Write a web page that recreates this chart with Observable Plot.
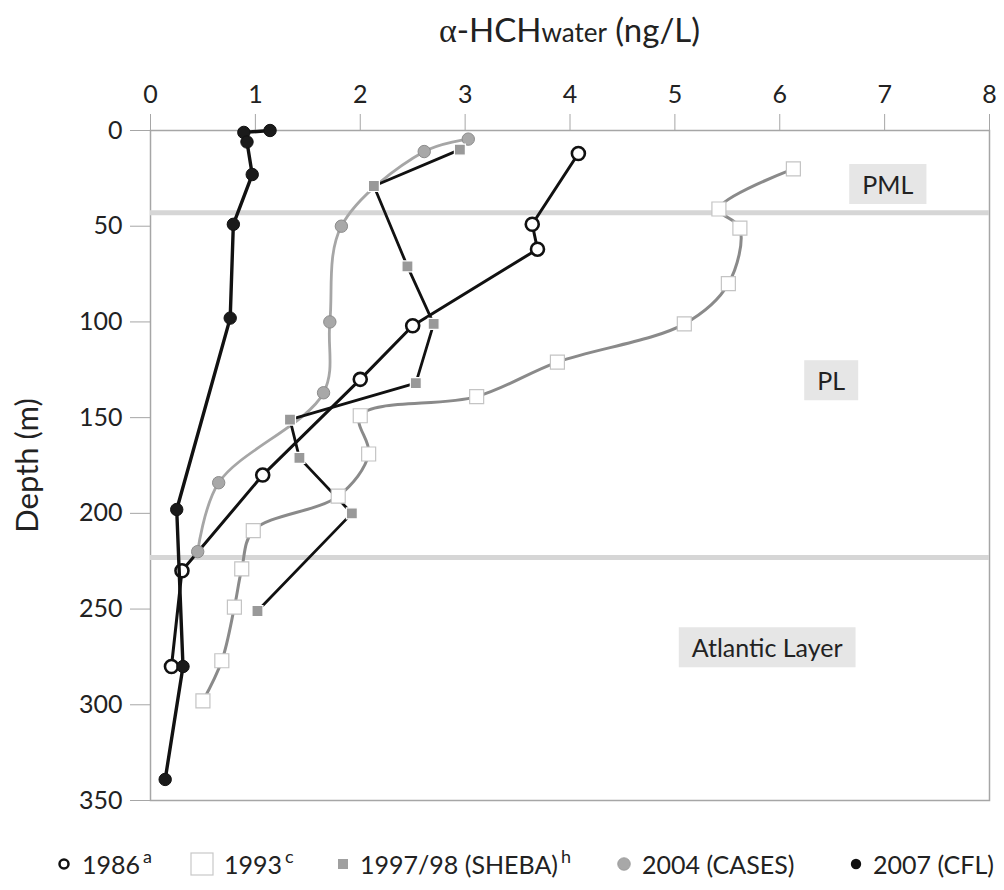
<!DOCTYPE html>
<html>
<head>
<meta charset="utf-8">
<script src="https://cdn.jsdelivr.net/npm/d3@7"></script>
<script src="https://cdn.jsdelivr.net/npm/@observablehq/plot@0.6"></script>
<style>
  body { margin: 0; background: #fff; font-family: Lato, "Open Sans", sans-serif; color: #222; }
  #wrap { position: relative; width: 1004px; height: 890px; overflow: hidden; background: #fff; }
  #title { position: absolute; left: 150px; width: 839px; top: 9px; text-align: center;
           font-size: 33px; line-height: 40px; white-space: nowrap; }
  #title .alpha { font-family: "Liberation Serif", "DejaVu Serif", serif; font-size: 34px; }
  #title .sub { font-size: 26px; }
  #chart { position: absolute; left: 0; top: 60px; }
  #legend { position: absolute; left: 0; top: 846px; width: 1004px; height: 36px; font-size: 25px; }
  #legend .item { position: absolute; top: 0; height: 36px; line-height: 36px; white-space: nowrap; display: flex; align-items: center; }
  #legend .item svg { flex: none; }
  #legend .lab { margin-left: 10px; }
  #legend sup { font-size: 18px; line-height: 1; vertical-align: 11px; margin-left: 3px; }
</style>
</head>
<body>
<div id="wrap">
  <div id="title"><span class="alpha">α</span>-HCH<span class="sub">water</span> (ng/L)</div>
  <div id="chart"></div>
  <div id="legend"></div>
</div>
<script>
// α-HCH concentration profiles (ng/L) against depth (m), Canada Basin

// 1986
const depth1986 = [12, 49, 62, 102, 130, 180, 230, 280];
const hch1986   = [4.08, 3.64, 3.69, 2.50, 2.00, 1.07, 0.30, 0.20];

// 1993
const depth1993 = [20, 41, 51, 80, 101, 121, 139, 149, 169, 191, 209, 229, 249, 277, 298];
const hch1993   = [6.13, 5.42, 5.62, 5.51, 5.09, 3.88, 3.11, 2.00, 2.08, 1.79, 0.98, 0.87, 0.80, 0.68, 0.50];

// 1997/98 (SHEBA)
const depthSheba = [10, 29, 71, 101, 132, 151, 171, 200, 251];
const hchSheba   = [2.95, 2.13, 2.45, 2.70, 2.53, 1.33, 1.42, 1.92, 1.02];

// 2004 (CASES)
const depth2004 = [4.5, 11, 50, 100, 137, 184, 220];
const hch2004   = [3.03, 2.61, 1.82, 1.71, 1.65, 0.65, 0.45];

// 2007 (CFL)
const depth2007 = [0, 1, 6, 23, 49, 98, 198, 280, 339];
const hch2007   = [1.14, 0.89, 0.92, 0.97, 0.79, 0.76, 0.25, 0.31, 0.14];

// axis ticks
const xTicks = [0, 1, 2, 3, 4, 5, 6, 7, 8];
const yTicks = [0, 50, 100, 150, 200, 250, 300, 350];

// water-mass boundaries (m) and layer names
const layerBounds = [43, 223];
const layerNames  = ["PML", "PL", "Atlantic Layer"];
const layerX      = [7.03, 6.49, 5.88];
const layerDepth  = [29, 131.5, 271];

// legend entries
const legendNames = ["1986", "1993", "1997/98 (SHEBA)", "2004 (CASES)", "2007 (CFL)"];
const legendNotes = ["a", "c", "h", "", ""];

const rows = (depths, values) => depths.map((d, i) => ({depth: d, hch: values[i]}));
const s1986 = rows(depth1986, hch1986);
const s1993 = rows(depth1993, hch1993);
const sSheba = rows(depthSheba, hchSheba);
const s2004 = rows(depth2004, hch2004);
const s2007 = rows(depth2007, hch2007);
const layers = layerNames.map((name, i) => ({name, hch: layerX[i], depth: layerDepth[i]}));

const sq = (side) => side / Math.sqrt(Math.PI); // radius giving a square of the given side

const chart = Plot.plot({
  width: 1004,
  height: 775,
  marginTop: 70,
  marginBottom: 35,
  marginLeft: 150,
  marginRight: 15,
  style: {fontFamily: "Lato, 'Open Sans', sans-serif", fontSize: "25px", color: "#222", background: "#fff"},
  x: {domain: [0, 8]},
  y: {domain: [0, 350], reverse: true},
  marks: [
    Plot.frame({stroke: "#a6a6a6", strokeWidth: 1.5}),
    Plot.axisX({anchor: "top", ticks: xTicks, tickSize: 17, tickPadding: 11, stroke: "#a6a6a6", fill: "#222", fontSize: 25, label: null, tickFormat: d => String(d)}),
    Plot.axisY({anchor: "left", ticks: yTicks, tickSize: 20, tickPadding: 8, stroke: "#a6a6a6", fill: "#222", fontSize: 25, label: null, tickFormat: d => String(d)}),
    Plot.ruleY(layerBounds, {stroke: "#d6d6d6", strokeWidth: 5}),
    Plot.text(layers, {x: "hch", y: "depth", text: "name", fontSize: 25, fill: "#222", textAnchor: "middle", lineAnchor: "middle"}),
    Plot.text(["Depth (m)"], {text: d => d, frameAnchor: "left", rotate: -90, dx: -122, fontSize: 31, fill: "#222", textAnchor: "middle", lineAnchor: "middle"}),

    // 1986
    Plot.line(s1986, {x: "hch", y: "depth", stroke: "#111", strokeWidth: 3}),
    Plot.dot(s1986, {x: "hch", y: "depth", r: 6.5, fill: "#fff", stroke: "#111", strokeWidth: 2.6}),

    // 2004 (CASES)
    Plot.line(s2004, {x: "hch", y: "depth", stroke: "#a6a6a6", strokeWidth: 2.8, curve: "catmull-rom"}),
    Plot.dot(s2004, {x: "hch", y: "depth", r: 6.2, fill: "#a8a8a8", stroke: "#8c8c8c", strokeWidth: 1}),

    // 1997/98 (SHEBA)
    Plot.line(sSheba, {x: "hch", y: "depth", stroke: "#111", strokeWidth: 2.8}),
    Plot.dot(sSheba, {x: "hch", y: "depth", symbol: "square", r: sq(11), fill: "#999", stroke: "#fff", strokeWidth: 1.2}),

    // 1993
    Plot.line(s1993, {x: "hch", y: "depth", stroke: "#8a8a8a", strokeWidth: 3, curve: "catmull-rom"}),
    Plot.dot(s1993, {x: "hch", y: "depth", symbol: "square", r: sq(14), fill: "#fff", stroke: "#c4c4c4", strokeWidth: 1.2}),

    // 2007 (CFL)
    Plot.line(s2007, {x: "hch", y: "depth", stroke: "#111", strokeWidth: 3.4}),
    Plot.dot(s2007, {x: "hch", y: "depth", r: 6.2, fill: "#1a1a1a", stroke: "#111", strokeWidth: 1})
  ]
});
document.getElementById("chart").appendChild(chart);

// shaded boxes behind the layer names
d3.select(chart).selectAll("text").each(function() {
  const t = d3.select(this);
  if (!layerNames.includes(t.text())) return;
  const b = this.getBBox();
  const padX = 13, padY = 5;
  const r = d3.select(this.parentNode).insert("rect", () => this)
    .attr("x", b.x - padX).attr("y", b.y - padY)
    .attr("width", b.width + 2 * padX).attr("height", b.height + 2 * padY)
    .attr("fill", "#e6e6e6");
  const tr = t.attr("transform");
  if (tr) r.attr("transform", tr);
});

// legend
const legendLeft = [56, 190, 336, 616, 849];
const icons = [
  `<svg width="16" height="16"><circle cx="8" cy="8" r="4.5" fill="#fff" stroke="#111" stroke-width="2.5"/></svg>`,
  `<svg width="24" height="24"><rect x="1" y="1" width="22" height="22" fill="#fff" stroke="#c8c8c8" stroke-width="1.2"/></svg>`,
  `<svg width="14" height="14"><rect x="2" y="2" width="10" height="10" fill="#a0a0a0"/></svg>`,
  `<svg width="16" height="16"><circle cx="8" cy="8" r="6.3" fill="#a8a8a8" stroke="#999" stroke-width="0.8"/></svg>`,
  `<svg width="14" height="14"><circle cx="7" cy="7" r="5.2" fill="#111"/></svg>`
];
const legend = d3.select("#legend");
legendNames.forEach((name, i) => {
  const item = legend.append("div").attr("class", "item").style("left", legendLeft[i] + "px");
  item.html(icons[i] + `<span class="lab">${name}${legendNotes[i] ? `<sup>${legendNotes[i]}</sup>` : ""}</span>`);
});
</script>
</body>
</html>
